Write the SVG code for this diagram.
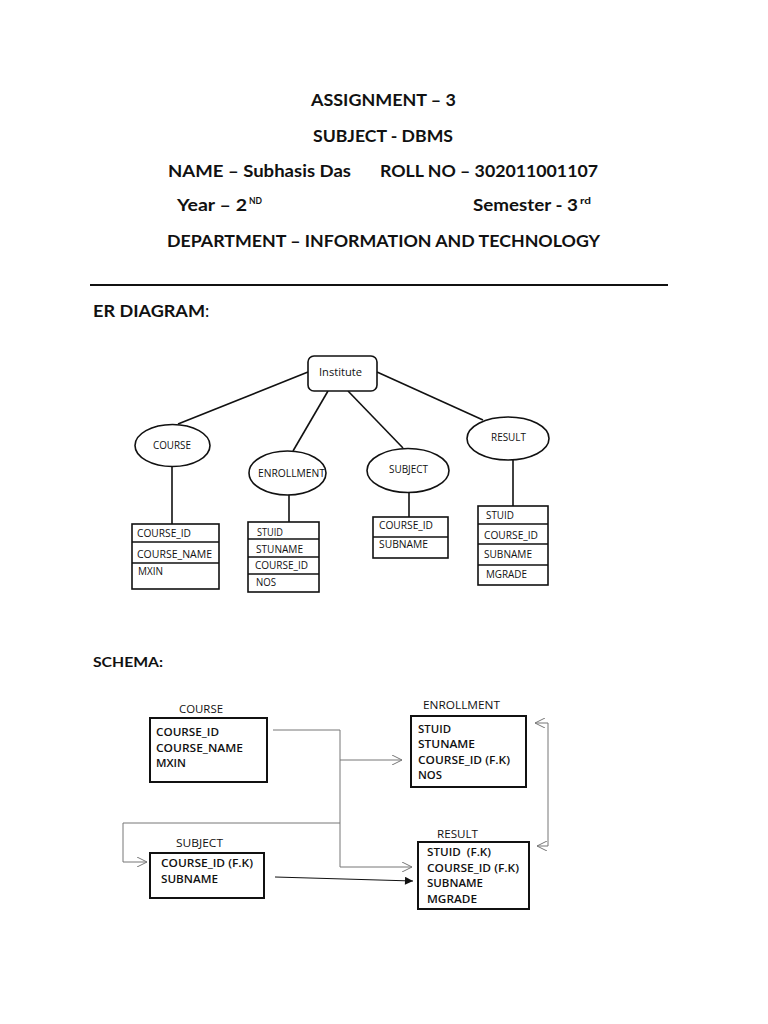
<svg xmlns="http://www.w3.org/2000/svg" width="768" height="1024" viewBox="0 0 768 1024">
<style>
text{font-family:Lato,"Open Sans","Liberation Sans",sans-serif;fill:#111}
.h{font-size:17px;font-weight:bold}
.s{font-family:"Open Sans",Lato,sans-serif;font-size:10px}
.m{font-family:"Open Sans",Lato,sans-serif;font-size:11.5px;font-weight:600}
.ml{font-family:"Open Sans",Lato,sans-serif;font-size:10.5px}
.box{fill:#fff;stroke:#111;stroke-width:1.6}
.sbox{fill:#fff;stroke:#111;stroke-width:2}
.edge{fill:none;stroke:#111;stroke-width:1.6}
.conn{fill:none;stroke:#777;stroke-width:1}
</style>
<defs>
<marker id="open" viewBox="0 0 10 10" refX="10" refY="5" markerWidth="10" markerHeight="10" markerUnits="userSpaceOnUse" orient="auto">
<polyline points="0,0 10,5 0,10" fill="none" stroke="#777" stroke-width="1"/>
</marker>
<marker id="solid" viewBox="0 0 10 10" refX="10" refY="5" markerWidth="10" markerHeight="8" markerUnits="userSpaceOnUse" orient="auto">
<polygon points="0,0 10,5 0,10" fill="#111"/>
</marker>
</defs>
<rect width="768" height="1024" fill="#fff"/>

<g id="header">
<text class="h" x="311" y="106" textLength="145" lengthAdjust="spacingAndGlyphs">ASSIGNMENT – 3</text>
<text class="h" x="313" y="142" textLength="140" lengthAdjust="spacingAndGlyphs">SUBJECT - DBMS</text>
<text class="h" x="168" y="177" textLength="183" lengthAdjust="spacingAndGlyphs">NAME – Subhasis Das</text>
<text class="h" x="380" y="177" textLength="218" lengthAdjust="spacingAndGlyphs">ROLL NO – 302011001107</text>
<text class="h" x="177" y="211" textLength="70" lengthAdjust="spacingAndGlyphs">Year – 2</text>
<text class="h" x="249" y="204" style="font-size:10px" textLength="13" lengthAdjust="spacingAndGlyphs">ND</text>
<text class="h" x="473" y="211" textLength="105" lengthAdjust="spacingAndGlyphs">Semester - 3</text>
<text class="h" x="580" y="204" style="font-size:10px" textLength="11" lengthAdjust="spacingAndGlyphs">rd</text>
<text class="h" x="167" y="247" textLength="433" lengthAdjust="spacingAndGlyphs">DEPARTMENT – INFORMATION AND TECHNOLOGY</text>
<rect x="90" y="284" width="578" height="2" fill="#111"/>
<text class="h" x="93" y="317" textLength="112" lengthAdjust="spacingAndGlyphs">ER DIAGRAM</text>
<text x="205" y="317" style="font-size:17px">:</text>
<text class="h" x="93" y="667" style="font-size:14px" textLength="70" lengthAdjust="spacingAndGlyphs">SCHEMA:</text>
</g>

<g id="er-edges">
<line class="edge" x1="308" y1="372" x2="178" y2="424"/>
<line class="edge" x1="328" y1="391" x2="293" y2="451"/>
<line class="edge" x1="348" y1="391" x2="403" y2="448"/>
<line class="edge" x1="377" y1="372" x2="483" y2="420"/>
<line class="edge" x1="172" y1="466" x2="172" y2="524"/>
<line class="edge" x1="289" y1="495" x2="289" y2="522"/>
<line class="edge" x1="409" y1="492" x2="409" y2="517"/>
<line class="edge" x1="513" y1="459" x2="513" y2="506"/>
</g>

<g id="er-institute">
<rect class="box" x="308" y="356" width="69" height="35" rx="6"/>
<text class="s" x="319" y="376" textLength="43" lengthAdjust="spacingAndGlyphs">Institute</text>
</g>
<g id="er-course">
<ellipse class="box" cx="172.5" cy="445.5" rx="37.5" ry="21"/>
<text class="s" x="153" y="449" textLength="38" lengthAdjust="spacingAndGlyphs">COURSE</text>
</g>
<g id="er-enrollment">
<ellipse class="box" cx="287.5" cy="473" rx="38.5" ry="22"/>
<text class="s" x="258" y="477" textLength="67" lengthAdjust="spacingAndGlyphs">ENROLLMENT</text>
</g>
<g id="er-subject">
<ellipse class="box" cx="408" cy="470.5" rx="41" ry="22"/>
<text class="s" x="389" y="473" textLength="39" lengthAdjust="spacingAndGlyphs">SUBJECT</text>
</g>
<g id="er-result">
<ellipse class="box" cx="508" cy="438.5" rx="41" ry="21.5"/>
<text class="s" x="491" y="441" textLength="35" lengthAdjust="spacingAndGlyphs">RESULT</text>
</g>

<g id="er-course-table">
<rect class="box" x="132" y="524" width="87" height="65"/>
<line class="edge" x1="132" y1="542" x2="219" y2="542"/>
<line class="edge" x1="132" y1="563" x2="219" y2="563"/>
<text class="s" x="137" y="537" textLength="54" lengthAdjust="spacingAndGlyphs">COURSE_ID</text>
<text class="s" x="137" y="558" textLength="75" lengthAdjust="spacingAndGlyphs">COURSE_NAME</text>
<text class="s" x="138" y="575" textLength="25" lengthAdjust="spacingAndGlyphs">MXIN</text>
</g>
<g id="er-enrollment-table">
<rect class="box" x="248" y="522" width="71" height="70"/>
<line class="edge" x1="248" y1="539" x2="319" y2="539"/>
<line class="edge" x1="248" y1="557" x2="319" y2="557"/>
<line class="edge" x1="248" y1="574" x2="319" y2="574"/>
<text class="s" x="257" y="536" textLength="26" lengthAdjust="spacingAndGlyphs">STUID</text>
<text class="s" x="256" y="553" textLength="47" lengthAdjust="spacingAndGlyphs">STUNAME</text>
<text class="s" x="255" y="569" textLength="53" lengthAdjust="spacingAndGlyphs">COURSE_ID</text>
<text class="s" x="256" y="586" textLength="20" lengthAdjust="spacingAndGlyphs">NOS</text>
</g>
<g id="er-subject-table">
<rect class="box" x="373" y="517" width="75" height="41"/>
<line class="edge" x1="373" y1="537" x2="448" y2="537"/>
<text class="s" x="379" y="529" textLength="54" lengthAdjust="spacingAndGlyphs">COURSE_ID</text>
<text class="s" x="379" y="548" textLength="49" lengthAdjust="spacingAndGlyphs">SUBNAME</text>
</g>
<g id="er-result-table">
<rect class="box" x="478" y="506" width="70" height="79"/>
<line class="edge" x1="478" y1="524" x2="548" y2="524"/>
<line class="edge" x1="478" y1="544" x2="548" y2="544"/>
<line class="edge" x1="478" y1="565" x2="548" y2="565"/>
<text class="s" x="486" y="519" textLength="28" lengthAdjust="spacingAndGlyphs">STUID</text>
<text class="s" x="484" y="539" textLength="54" lengthAdjust="spacingAndGlyphs">COURSE_ID</text>
<text class="s" x="484" y="558" textLength="48" lengthAdjust="spacingAndGlyphs">SUBNAME</text>
<text class="s" x="486" y="578" textLength="41" lengthAdjust="spacingAndGlyphs">MGRADE</text>
</g>

<g id="schema-connectors">
<polyline class="conn" points="273,730 340,730 340,867 412,867" marker-end="url(#open)"/>
<line class="conn" x1="340" y1="760" x2="402" y2="760" marker-end="url(#open)"/>
<polyline class="conn" points="340,823 123,823 123,862 147,862" marker-end="url(#open)"/>
<polyline class="conn" points="548,723 535,723" marker-end="url(#open)"/>
<polyline class="conn" points="548,723 548,846 537,846" marker-end="url(#open)"/>
<line x1="275" y1="877" x2="413" y2="881" stroke="#111" stroke-width="1.2" marker-end="url(#solid)"/>
</g>

<g id="schema-course">
<text class="ml" x="179" y="713" textLength="44" lengthAdjust="spacingAndGlyphs">COURSE</text>
<rect class="sbox" x="150" y="718" width="117" height="64"/>
<text class="m" x="156" y="736" textLength="63" lengthAdjust="spacingAndGlyphs">COURSE_ID</text>
<text class="m" x="156" y="752" textLength="87" lengthAdjust="spacingAndGlyphs">COURSE_NAME</text>
<text class="m" x="156" y="767" textLength="30" lengthAdjust="spacingAndGlyphs">MXIN</text>
</g>
<g id="schema-enrollment">
<text class="ml" x="423" y="709" textLength="77" lengthAdjust="spacingAndGlyphs">ENROLLMENT</text>
<rect class="sbox" x="411" y="716" width="115" height="71"/>
<text class="m" x="418" y="733" textLength="33" lengthAdjust="spacingAndGlyphs">STUID</text>
<text class="m" x="418" y="748" textLength="57" lengthAdjust="spacingAndGlyphs">STUNAME</text>
<text class="m" x="418" y="764" textLength="92" lengthAdjust="spacingAndGlyphs">COURSE_ID (F.K)</text>
<text class="m" x="418" y="779" textLength="24" lengthAdjust="spacingAndGlyphs">NOS</text>
</g>
<g id="schema-subject">
<text class="ml" x="176" y="847" textLength="47" lengthAdjust="spacingAndGlyphs">SUBJECT</text>
<rect class="sbox" x="150" y="853" width="114" height="45"/>
<text class="m" x="161" y="867" textLength="92" lengthAdjust="spacingAndGlyphs">COURSE_ID (F.K)</text>
<text class="m" x="161" y="883" textLength="57" lengthAdjust="spacingAndGlyphs">SUBNAME</text>
</g>
<g id="schema-result">
<text class="ml" x="437" y="838" textLength="41" lengthAdjust="spacingAndGlyphs">RESULT</text>
<rect class="sbox" x="418" y="842" width="111" height="67"/>
<text class="m" x="427" y="856" textLength="64" lengthAdjust="spacingAndGlyphs" style="white-space:pre">STUID  (F.K)</text>
<text class="m" x="427" y="872" textLength="92" lengthAdjust="spacingAndGlyphs">COURSE_ID (F.K)</text>
<text class="m" x="427" y="887" textLength="56" lengthAdjust="spacingAndGlyphs">SUBNAME</text>
<text class="m" x="427" y="903" textLength="50" lengthAdjust="spacingAndGlyphs">MGRADE</text>
</g>
</svg>
